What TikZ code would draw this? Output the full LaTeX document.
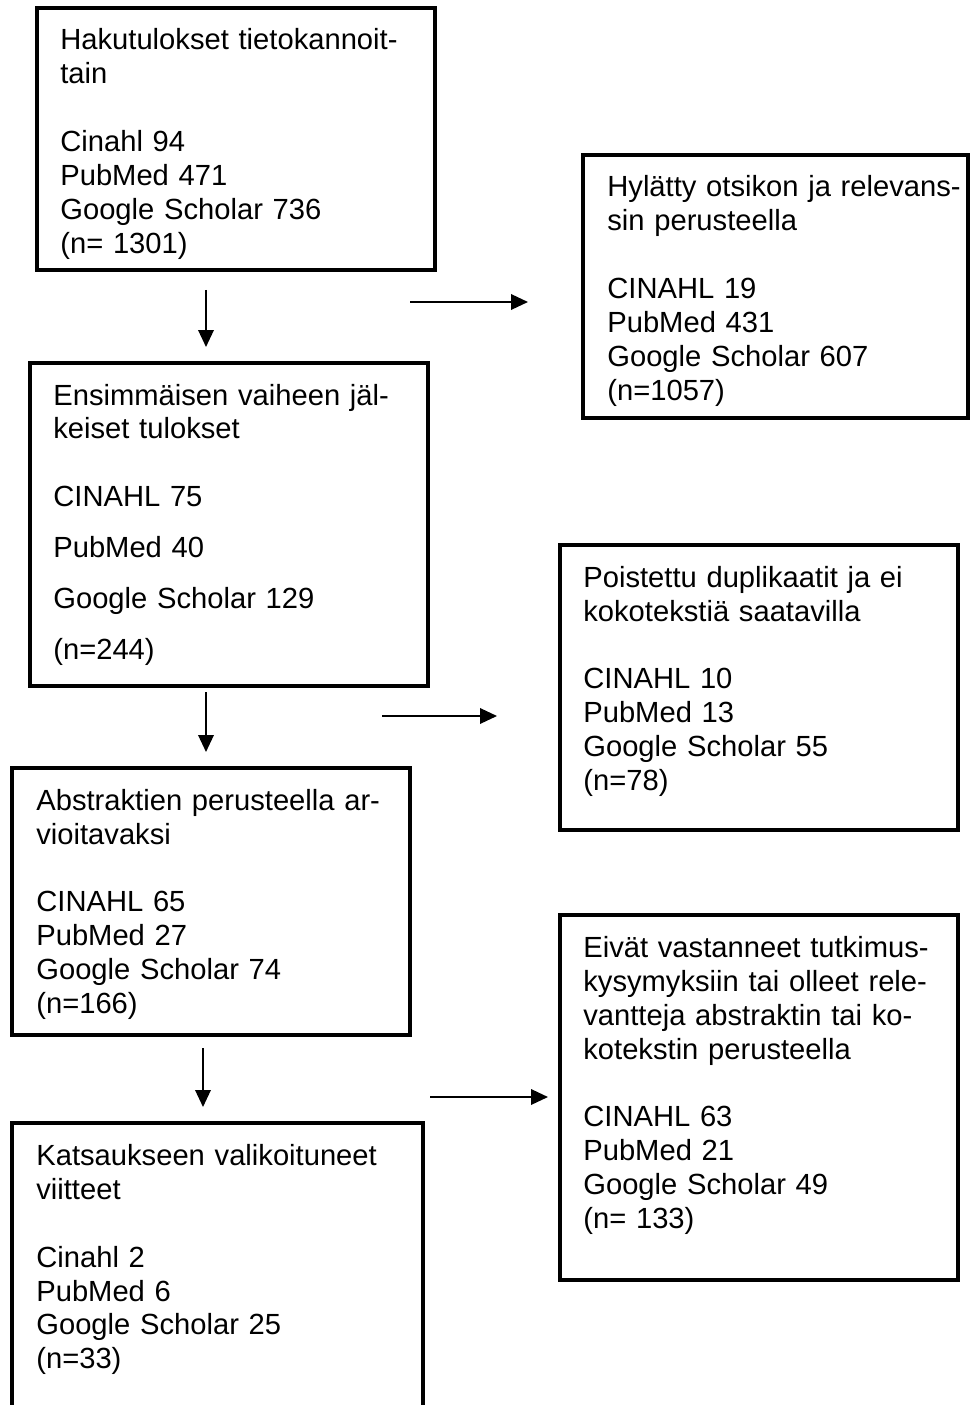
\documentclass[tikz,border=0pt]{standalone}
\usepackage{fontspec}
\setmainfont{Liberation Sans}
\usepackage{tikz}
\usetikzlibrary{arrows.meta}

\tikzset{
    stage/.style={draw, line width=2.3pt, inner sep=0pt},
    entry/.style={anchor=base west, inner sep=0pt, text width=9cm, align=left,
                  font=\fontsize{16.6}{19.35}\selectfont},
    flow/.style={-{Triangle[length=0.34cm, width=0.31cm]}, line width=1.1pt}
}

\begin{document}
\begin{tikzpicture}[x=0.02cm, y=-0.02cm]
    \useasboundingbox (0, 0) rectangle (971, 1405);

    % Main column (left)
    \node[stage, minimum width=7.96cm, minimum height=5.24cm] (hits) at (236, 139) {};
    \node[entry] (hitsT) at (60, 50) {Hakutulokset tietokannoit-\\ tain\\[\baselineskip]
        Cinahl 94\\ PubMed 471\\ Google Scholar 736\\ (n= 1301)};

    \node[stage, minimum width=7.96cm, minimum height=6.46cm] (first) at (229, 524.5) {};
    \node[entry] (firstT) at (53, 405) {Ensimmäisen vaiheen jäl-\\ keiset tulokset\\[\baselineskip]
        CINAHL 75\\[0.34cm] PubMed 40\\[0.34cm] Google Scholar 129\\[0.34cm] (n=244)};

    \node[stage, minimum width=7.96cm, minimum height=5.34cm] (abstr) at (211, 901.5) {};
    \node[entry] (abstrT) at (36, 810) {Abstraktien perusteella ar-\\ vioitavaksi\\[\baselineskip]
        CINAHL 65\\ PubMed 27\\ Google Scholar 74\\ (n=166)};

    \node[stage, minimum width=8.22cm, minimum height=6.14cm] (chosen) at (217.5, 1276.5) {};
    \node[entry] (chosenT) at (36, 1165) {Katsaukseen valikoituneet\\ viitteet\\[\baselineskip]
        Cinahl 2\\ PubMed 6\\ Google Scholar 25\\ (n=33)};

    % Excluded records (right)
    \node[stage, minimum width=7.70cm, minimum height=5.26cm] (reject) at (775.5, 286.5) {};
    \node[entry] (rejectT) at (607, 197) {Hylätty otsikon ja relevans-\\ sin perusteella\\[\baselineskip]
        CINAHL 19\\ PubMed 431\\ Google Scholar 607\\ (n=1057)};

    \node[stage, minimum width=7.96cm, minimum height=5.70cm] (dupl) at (759, 687.5) {};
    \node[entry] (duplT) at (583, 587) {Poistettu duplikaatit ja ei\\ kokotekstiä saatavilla\\[\baselineskip]
        CINAHL 10\\ PubMed 13\\ Google Scholar 55\\ (n=78)};

    \node[stage, minimum width=7.96cm, minimum height=7.30cm] (irrel) at (759, 1097.5) {};
    \node[entry] (irrelT) at (583, 957) {Eivät vastanneet tutkimus-\\ kysymyksiin tai olleet rele-\\
        vantteja abstraktin tai ko-\\ kotekstin perusteella\\[\baselineskip]
        CINAHL 63\\ PubMed 21\\ Google Scholar 49\\ (n= 133)};

    % Arrows
    \foreach \n/\xa/\ya/\xb/\yb in {d1/206/290/206/347, r1/410/302/528/302,
                                   d2/206/692/206/752, r2/382/716/497/716,
                                   d3/203/1048/203/1107, r3/430/1097/548/1097} {
        \coordinate (\n a) at (\xa, \ya);
        \coordinate (\n b) at (\xb, \yb);
        \draw[flow] (\n a) -- (\n b);
    }
\end{tikzpicture}
\end{document}
